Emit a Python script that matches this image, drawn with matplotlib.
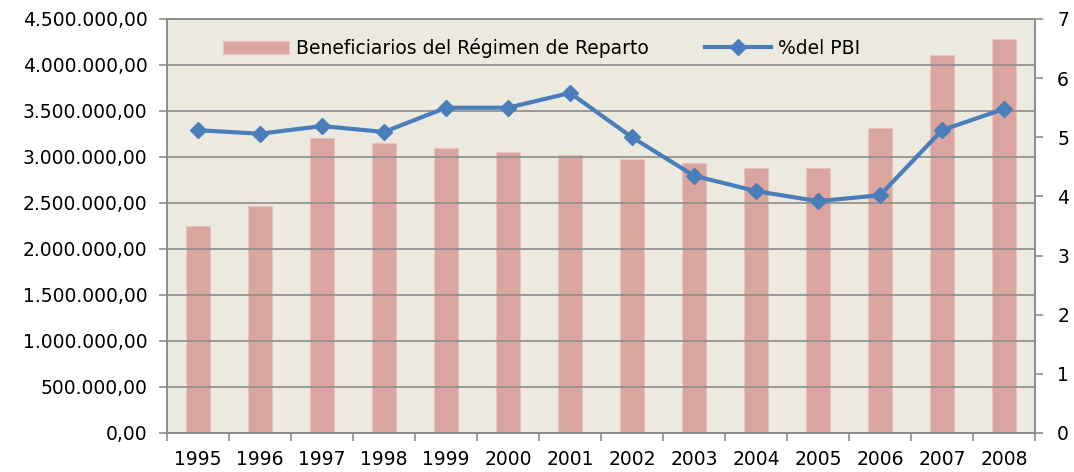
import numpy as np
import matplotlib.pyplot as plt
from matplotlib.ticker import FuncFormatter, MultipleLocator

years = ["1995", "1996", "1997", "1998", "1999", "2000", "2001",
         "2002", "2003", "2004", "2005", "2006", "2007", "2008"]
beneficiarios = [2250000, 2467000, 3207000, 3152000, 3098000, 3054000, 3022000,
                 2978000, 2935000, 2880000, 2880000, 3315000, 4109000, 4283000]
pct_pbi = [5.12, 5.06, 5.19, 5.09, 5.50, 5.50, 5.75,
           5.00, 4.35, 4.09, 3.92, 4.02, 5.12, 5.48]

bar_color = "#DAA59E"
line_color = "#4A7EBB"
bg_color = "#ECE9DF"
grid_color = "#8C8C8C"
fs = 13.5


def es_fmt(v, pos):
    # formato 4.500.000,00
    s = f"{v:,.2f}"
    return s.replace(",", "X").replace(".", ",").replace("X", ".")


fig = plt.figure(figsize=(10.74, 4.72), dpi=100)
ax = fig.add_axes([167 / 1074, 1 - 433 / 472, 868 / 1074, 414 / 472])
ax.set_facecolor(bg_color)
x = np.arange(len(years))

bars = ax.bar(x, beneficiarios, width=0.38, color=bar_color, zorder=2,
              edgecolor="#E8C4C0", linewidth=0.8,
              label="Beneficiarios del Régimen de Reparto")
ax.set_ylim(0, 4500000)
ax.set_xlim(-0.5, len(years) - 0.5)
ax.yaxis.set_major_locator(MultipleLocator(500000))
ax.yaxis.set_major_formatter(FuncFormatter(es_fmt))
ax.grid(axis="y", color=grid_color, linewidth=1.2, zorder=3)
ax.set_axisbelow(False)

ax.set_xticks(x)
ax.set_xticklabels(years)
ax.set_xticks(np.arange(-0.5, len(years), 1), minor=True)
ax.tick_params(axis="x", which="major", length=0, pad=12, labelsize=fs)
ax.tick_params(axis="x", which="minor", length=6, color=grid_color, width=1.2)
ax.tick_params(axis="y", length=6, color=grid_color, width=1.2, labelsize=fs, pad=8)

ax2 = ax.twinx()
line, = ax2.plot(x, pct_pbi, color=line_color, linewidth=3, marker="D",
                 markersize=8, zorder=5, label="%del PBI")
ax2.set_ylim(0, 7)
ax2.yaxis.set_major_locator(MultipleLocator(1))
ax2.tick_params(axis="y", length=6, color=grid_color, width=1.2, labelsize=fs, pad=10)

for a in (ax, ax2):
    for sp in a.spines.values():
        sp.set_color(grid_color)
        sp.set_linewidth(1.2)

ax.legend([bars, line], ["Beneficiarios del Régimen de Reparto", "%del PBI"],
          ncol=2, frameon=False, loc="upper left", bbox_to_anchor=(0.045, 0.995),
          fontsize=fs, columnspacing=3.0, handlelength=3.5, handletextpad=0.4)

fig.savefig("out.png", dpi=100)
